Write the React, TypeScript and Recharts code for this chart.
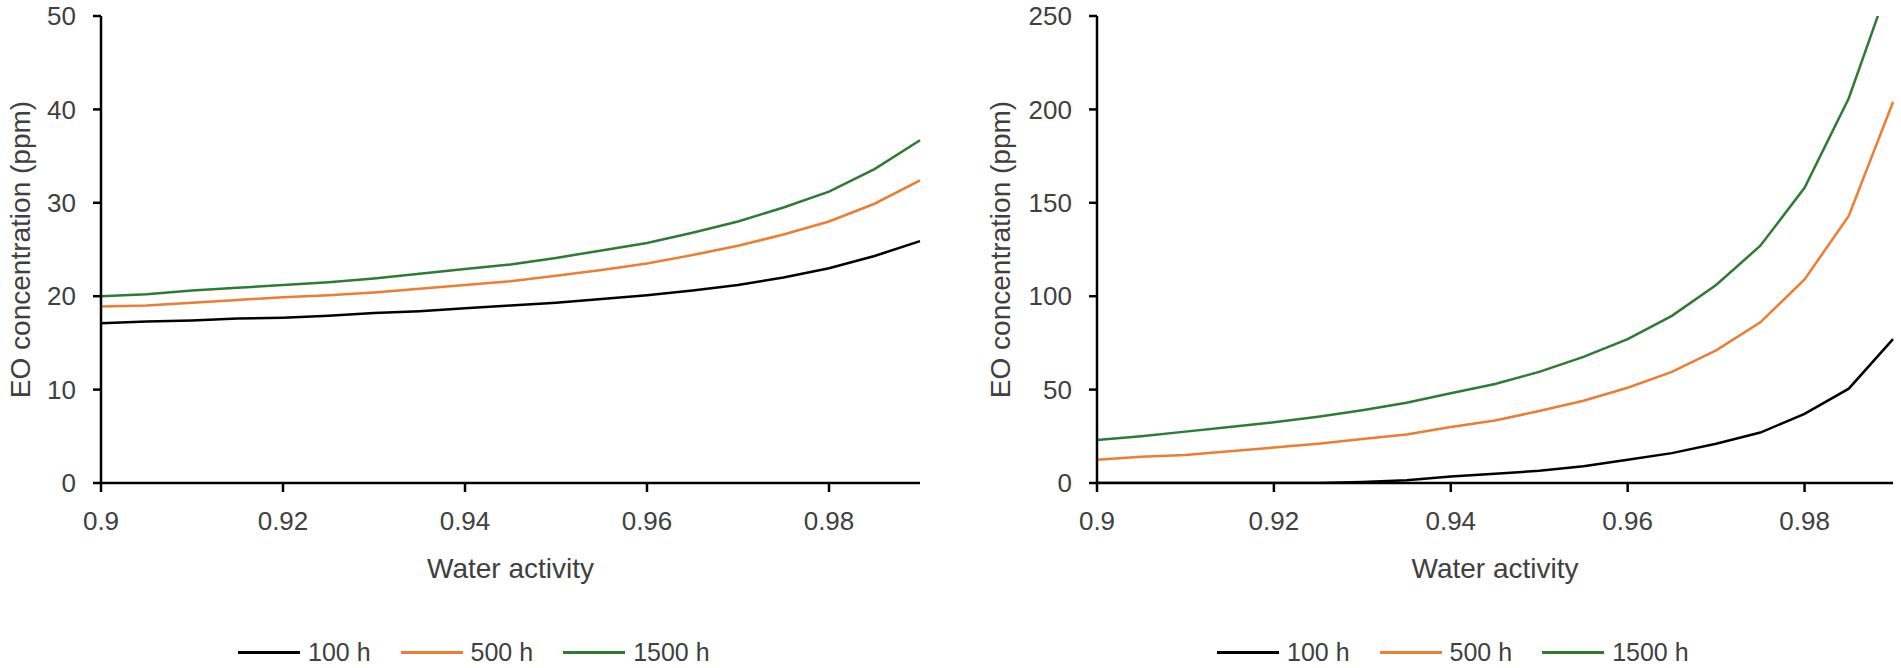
import { LineChart, Line, XAxis, YAxis } from 'recharts';

const waterActivity = [0.9, 0.905, 0.91, 0.915, 0.92, 0.925, 0.93, 0.935, 0.94, 0.945, 0.95, 0.955, 0.96, 0.965, 0.97, 0.975, 0.98, 0.985, 0.99];
const xTicks = [0.9, 0.92, 0.94, 0.96, 0.98];

const seriesNames = ['100 h', '500 h', '1500 h'];
const seriesColors = ['#000000', '#ED7D31', '#2E7B34'];

// left panel
const leftH100 = [17.1, 17.3, 17.4, 17.6, 17.7, 17.9, 18.2, 18.4, 18.7, 19.0, 19.3, 19.7, 20.1, 20.6, 21.2, 22.0, 23.0, 24.3, 25.9];
const leftH500 = [18.9, 19.0, 19.3, 19.6, 19.9, 20.1, 20.4, 20.8, 21.2, 21.6, 22.2, 22.8, 23.5, 24.4, 25.4, 26.6, 28.0, 29.9, 32.4];
const leftH1500 = [20.0, 20.2, 20.6, 20.9, 21.2, 21.5, 21.9, 22.4, 22.9, 23.4, 24.1, 24.9, 25.7, 26.8, 28.0, 29.5, 31.2, 33.6, 36.7];
const leftYTicks = [0, 10, 20, 30, 40, 50];

// right panel
const rightH100 = [0, 0, 0, 0, 0, 0, 0.5, 1.5, 3.5, 5, 6.5, 9, 12.5, 16, 21, 27, 37, 50.5, 77];
const rightH500 = [12.5, 14, 15, 17, 19, 21, 23.5, 26, 30, 33.5, 38.5, 44, 51, 59.5, 71, 86, 109, 143, 204];
const rightH1500 = [23, 25, 27.5, 30, 32.5, 35.5, 39, 43, 48, 53, 59.5, 67.5, 77, 89.5, 106, 127, 158, 206, 273];
const rightYTicks = [0, 50, 100, 150, 200, 250];

const FONT = '"Liberation Sans", Arial, sans-serif';
const TEXT = '#404040';

const buildRows = (a: number[], b: number[], c: number[]) =>
  waterActivity.map((aw, i) => ({ aw, h100: a[i], h500: b[i], h1500: c[i] }));

const leftData = buildRows(leftH100, leftH500, leftH1500);
const rightData = buildRows(rightH100, rightH500, rightH1500);
const keys = ['h100', 'h500', 'h1500'];

const fmtX = (v: number) => String(Number(v.toFixed(2)));

interface PanelProps {
  data: { aw: number }[];
  yTicks: number[];
  left: number;
  width: number;
  yAxisWidth: number;
  rightMargin: number;
  labelOffset: number;
}

const Panel = ({ data, yTicks, left, width, yAxisWidth, rightMargin, labelOffset }: PanelProps) => (
  <div style={{ position: 'absolute', left, top: 0 }}>
    <LineChart width={width} height={668} data={data} margin={{ top: 16, right: rightMargin, bottom: 90, left: 0 }}>
      <XAxis
        dataKey="aw"
        type="number"
        domain={[0.9, 0.99]}
        ticks={xTicks}
        tickFormatter={fmtX}
        height={95}
        axisLine={{ stroke: '#000', strokeWidth: 2.5 }}
        tickLine={{ stroke: '#000', strokeWidth: 2.5 }}
        tickSize={9}
        tickMargin={20}
        tick={{ fill: TEXT, fontSize: 26, fontFamily: FONT }}
        label={{ value: 'Water activity', position: 'insideBottom', offset: 0, fill: TEXT, fontSize: 28, fontFamily: FONT }}
      />
      <YAxis
        type="number"
        domain={[yTicks[0], yTicks[yTicks.length - 1]]}
        ticks={yTicks}
        allowDataOverflow
        width={yAxisWidth}
        axisLine={{ stroke: '#000', strokeWidth: 2.5 }}
        tickLine={{ stroke: '#000', strokeWidth: 2.5 }}
        tickSize={8}
        tickMargin={17}
        tick={{ fill: TEXT, fontSize: 26, fontFamily: FONT }}
        label={{
          value: 'EO concentration (ppm)',
          angle: -90,
          position: 'insideLeft',
          offset: labelOffset,
          fill: TEXT,
          fontSize: 28,
          fontFamily: FONT,
          style: { textAnchor: 'middle' },
        }}
      />
      {keys.map((k, i) => (
        <Line
          key={k}
          type="linear"
          dataKey={k}
          name={seriesNames[i]}
          stroke={seriesColors[i]}
          strokeWidth={2.5}
          dot={false}
          isAnimationActive={false}
        />
      ))}
    </LineChart>
  </div>
);

const Legend = ({ left }: { left: number }) => (
  <div
    style={{
      position: 'absolute',
      left,
      top: 636,
      height: 32,
      display: 'flex',
      alignItems: 'center',
      gap: 30,
      fontFamily: FONT,
      fontSize: 25,
      color: TEXT,
      whiteSpace: 'nowrap',
    }}
  >
    {seriesNames.map((name, i) => (
      <div key={name} style={{ display: 'flex', alignItems: 'center', gap: 8 }}>
        <div style={{ width: 62, height: 3, background: seriesColors[i] }} />
        <span>{name}</span>
      </div>
    ))}
  </div>
);

export default function App() {
  return (
    <div style={{ position: 'absolute', left: 0, top: 0, width: 1901, height: 668, background: '#fff', overflow: 'hidden' }}>
      <Panel data={leftData} yTicks={leftYTicks} left={0} width={960} yAxisWidth={101} rightMargin={40} labelOffset={20} />
      <Panel data={rightData} yTicks={rightYTicks} left={960} width={941} yAxisWidth={137} rightMargin={8} labelOffset={40} />
      <Legend left={238} />
      <Legend left={1217} />
    </div>
  );
}
